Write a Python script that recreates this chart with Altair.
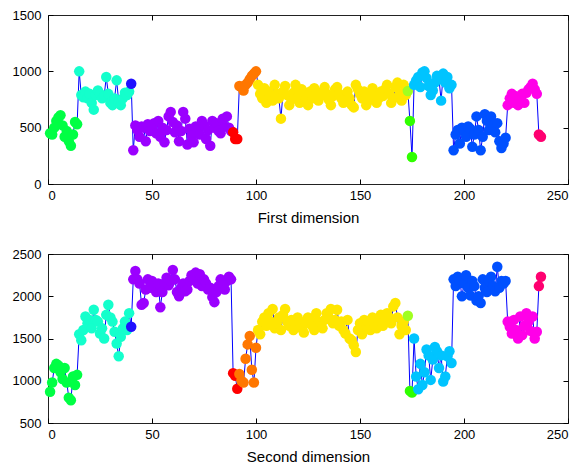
import altair as alt
import pandas as pd

cluster_sizes = [14, 25, 1, 48, 3, 9, 72, 1, 2, 19, 26, 15, 2]
cluster_colors = ["#00ff44", "#14ffcc", "#2010ff", "#9b00ff", "#ff0000", "#ff7700",
                  "#ffe600", "#a0ff20", "#30ff00", "#00c4ff", "#0050ff", "#ff00e8", "#ff0070"]

first_dim = [
    # green 1-14
    450, 440, 500, 560, 590, 610, 520, 420, 470, 380, 340, 440, 550, 530,
    # aquamarine 15-39
    1000, 790, 770, 820, 760, 800, 720, 660, 790, 830, 800, 760, 780, 950, 800, 720, 700, 760, 920, 730, 700, 760, 810, 790, 820,
    # blue 40
    890,
    # purple 41-88
    300, 520, 480, 420, 510, 500, 380, 530, 470, 490, 540, 450, 560, 420, 500, 370,
    480, 600, 640, 550, 460, 520, 380, 470, 640, 580, 350, 490, 430, 370, 510, 480,
    440, 560, 520, 400, 480, 340, 560, 500, 540, 470, 450, 580, 510, 600, 500, 470,
    # red 89-91
    460, 400, 400,
    # orange 92-100
    870, 860, 830, 880, 900, 930, 960, 980, 1000,
    # yellow 101-172
    880, 800, 760, 850, 720, 820, 780, 740, 880, 800, 760, 580, 820, 870, 790, 700,
    750, 810, 880, 770, 720, 840, 790, 760, 700, 820, 760, 850, 800, 740, 780, 820,
    860, 800, 750, 700, 780, 840, 860, 800, 760, 720, 790, 820, 760, 700, 680, 880,
    840, 800, 760, 820, 700, 740, 800, 850, 780, 720, 760, 820, 780, 840, 880, 800,
    720, 760, 860, 900, 800, 740, 880, 790,
    # yellow-green 173
    825,
    # green 174-175
    560, 240,
    # sky blue 176-194
    880, 920, 950, 860, 990, 1000, 940, 870, 790, 830, 900, 960, 930, 740, 980, 900, 950, 850, 880,
    # blue 195-220
    300, 440, 480, 360, 500, 470, 420, 510, 490, 330, 440, 600, 480, 300, 420, 620,
    560, 480, 600, 520, 460, 540, 380, 320, 360, 410,
    # magenta 221-235
    700, 760, 800, 720, 780, 700, 750, 800, 720, 810, 840, 860, 890, 840, 800,
    # pink 236-237
    440, 420,
]

second_dim = [
    # green 1-14
    870, 980, 1150, 1200, 1180, 1100, 1020, 1150, 980, 800, 770, 1050, 950, 1070,
    # aquamarine 15-39
    1550, 1480, 1600, 1760, 1680, 1720, 1620, 1840, 1720, 1700, 1560, 1620, 1500, 1780, 1900, 1750, 1700, 1580, 1440, 1290, 1520, 1620, 1700, 1600, 1800,
    # blue 40
    1640,
    # purple 41-88
    2200, 2300, 2200, 2150, 1900, 1920, 2080, 2200, 2100, 2180, 2120, 2050, 2150, 1870, 2050, 2150,
    2220, 2130, 2180, 2310, 2200, 2050, 2000, 2100, 2150, 2060, 2080, 2180, 2250, 2200, 2280, 2150,
    2260, 2120, 2200, 2150, 2080, 2100, 1990, 1930, 2050, 2120, 2200, 2150, 2080, 2180, 2230, 2200,
    # red 89-91
    1090, 1060, 905,
    # orange 92-100
    1080, 1000, 980, 1260, 1430, 1530, 1130, 980, 1390,
    # yellow 101-172
    1600, 1550, 1700, 1750, 1650, 1800, 1700, 1850, 1620, 1680, 1750, 1600, 1780, 1850, 1700, 1650,
    1720, 1600, 1680, 1750, 1700, 1620, 1570, 1680, 1750, 1720, 1650, 1600, 1800, 1700, 1680, 1620,
    1720, 1800, 1750, 1850, 1680, 1720, 1840, 1650, 1700, 1600, 1560, 1720, 1500, 1480, 1420, 1340,
    1600, 1680, 1550, 1720, 1650, 1700, 1600, 1750, 1680, 1620, 1700, 1780, 1650, 1720, 1800, 1750,
    1680, 1880, 1920, 1750, 1550, 1650, 1700, 1600,
    # yellow-green 173
    1770,
    # green 174-175
    880, 860,
    # sky blue 176-194
    1500, 1050, 900, 1200, 950, 1100, 1370, 1300, 1010, 1250, 1400, 1350, 1150, 1300, 990, 1050, 1290, 1350, 1210,
    # blue 195-220
    2200, 2120, 2230, 2180, 2000, 2150, 2250, 2100, 2010, 2180, 2120, 1950, 2000, 1920, 2200, 2100,
    2050, 2180, 2230, 2120, 2060, 2350, 2100, 2180, 2150, 2180,
    # magenta 221-235
    1700, 1640, 1560, 1720, 1600, 1500, 1760, 1540, 1650, 1800, 1700, 1590, 1760, 1500, 1580,
    # pink 236-237
    2120, 2230,
]

x_ticks = [0, 50, 100, 150, 200, 250]
y1_ticks = [0, 500, 1000, 1500]
y2_ticks = [500, 1000, 1500, 2000, 2500]

clusters = []
for ci, n in enumerate(cluster_sizes):
    clusters += [ci] * n

df = pd.DataFrame({
    "idx": list(range(1, len(first_dim) + 1)),
    "first": first_dim,
    "second": second_dim,
    "cluster": clusters,
})

FONT = "Liberation Sans"
W, H = 520, 169


def panel(field, ydomain, yticks, title):
    xs = alt.Scale(domain=[0, 250], nice=False, zero=False)
    ys = alt.Scale(domain=ydomain, nice=False, zero=False)
    base = alt.Chart(df)
    line = base.mark_line(color="#0000ff", strokeWidth=1).encode(
        x=alt.X("idx:Q", scale=xs, axis=alt.Axis(
            values=x_ticks, orient="bottom", offset=-5, tickSize=5, domain=False,
            grid=False, labelPadding=5, format="d", title=title, titlePadding=8)),
        y=alt.Y(f"{field}:Q", scale=ys, axis=alt.Axis(
            values=yticks, orient="left", offset=-5, tickSize=5, domain=False,
            grid=False, labelPadding=7, format="d", title=None)),
        order="idx:Q",
    )
    pts = base.mark_circle(size=110, opacity=1).encode(
        x=alt.X("idx:Q", scale=xs, axis=alt.Axis(
            values=x_ticks, orient="top", offset=-5, tickSize=5, domain=False,
            grid=False, labels=False, title=None)),
        y=alt.Y(f"{field}:Q", scale=ys, axis=alt.Axis(
            values=yticks, orient="right", offset=-5, tickSize=5, domain=False,
            grid=False, labels=False, title=None)),
        color=alt.Color("cluster:O", scale=alt.Scale(domain=list(range(len(cluster_sizes))),
                                                     range=cluster_colors), legend=None),
    )
    return alt.layer(line, pts).resolve_axis(x="independent", y="independent").properties(
        width=W, height=H)


top = panel("first", [0, 1500], y1_ticks, "First dimension")
bottom = panel("second", [500, 2500], y2_ticks, "Second dimension")

chart = alt.vconcat(top, bottom, spacing=70, bounds="flush").properties(
    padding={"left": 3, "top": 0, "right": 5, "bottom": 5}
).configure_view(stroke="#222222", strokeWidth=1).configure_axis(
    labelFont=FONT, titleFont=FONT, labelFontSize=13, titleFontSize=15,
    titleFontWeight="normal", labelColor="black", titleColor="black",
    tickColor="black", tickWidth=1,
)

chart.save("out.html", embed_options={"renderer": "svg", "actions": False})
